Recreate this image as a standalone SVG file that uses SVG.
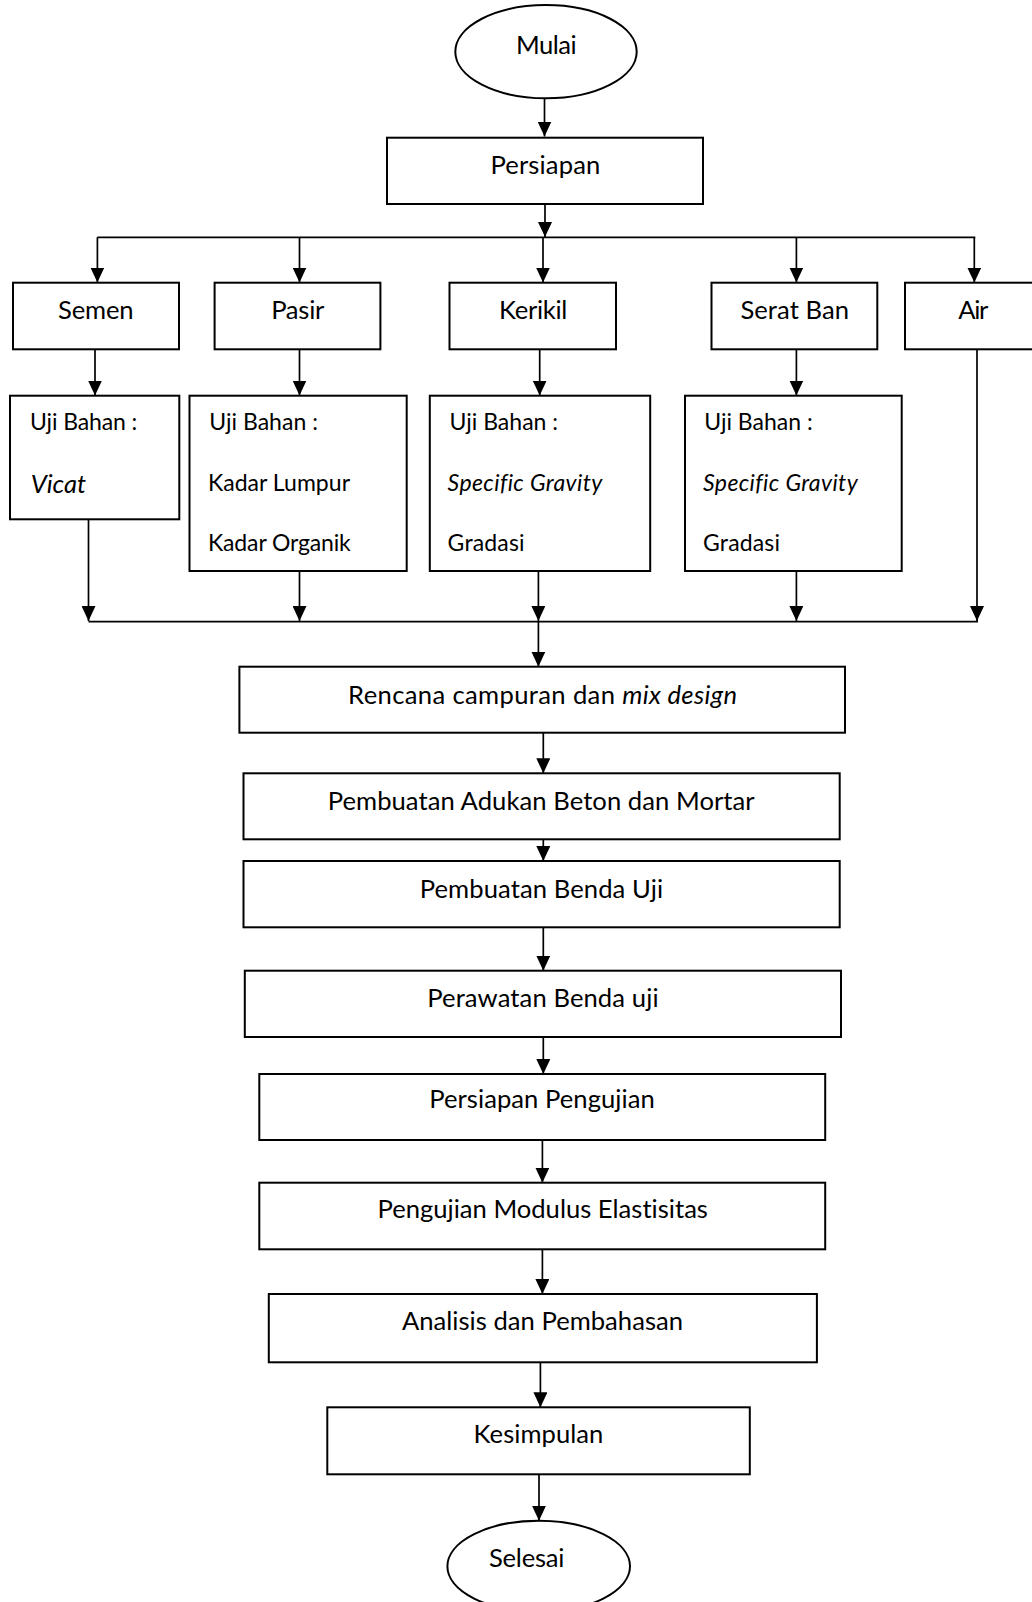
<svg xmlns="http://www.w3.org/2000/svg" width="1032" height="1602" viewBox="0 0 1032 1602">
<style>
.box{fill:#fff;stroke:#000;stroke-width:2}
.ln{fill:none;stroke:#000;stroke-width:1.7}
.arr{fill:none;stroke:#000;stroke-width:1.7;marker-end:url(#ah)}
.t{font-family:Lato,"Liberation Sans",sans-serif;font-size:25.6px;fill:#000;font-variant-ligatures:none;font-feature-settings:"liga" 0,"dlig" 0,"clig" 0}
.c{text-anchor:middle}
.s{font-size:23px}
.i{font-style:italic}
</style>
<defs>
<marker id="ah" markerUnits="userSpaceOnUse" markerWidth="15" markerHeight="14" viewBox="0 -7 15 14" refX="15" refY="0" orient="auto">
<path d="M0,-7 L15,0 L0,7 Z" fill="#000"/>
</marker>
</defs>
<rect width="1032" height="1602" fill="#fff"/>
<g id="connectors">
<line class="arr" x1="544.5" y1="98.3" x2="544.5" y2="136.5"/>
<line class="arr" x1="545" y1="204" x2="545" y2="237"/>
<line class="ln" x1="97.4" y1="237.3" x2="975.3" y2="237.3"/>
<line class="arr" x1="97.4" y1="237.3" x2="97.4" y2="282.5"/>
<line class="arr" x1="299.5" y1="237.3" x2="299.5" y2="282.5"/>
<line class="arr" x1="543" y1="237.3" x2="543" y2="282.5"/>
<line class="arr" x1="796.4" y1="237.3" x2="796.4" y2="282.5"/>
<line class="arr" x1="974.3" y1="237.3" x2="974.3" y2="282.5"/>
<line class="arr" x1="95" y1="349.3" x2="95" y2="395.5"/>
<line class="arr" x1="299.5" y1="349.3" x2="299.5" y2="395.5"/>
<line class="arr" x1="539.7" y1="349.3" x2="539.7" y2="395.5"/>
<line class="arr" x1="796.4" y1="349.3" x2="796.4" y2="395.5"/>
<line class="ln" x1="88.5" y1="621.7" x2="978" y2="621.7"/>
<line class="arr" x1="88.5" y1="519.3" x2="88.5" y2="621"/>
<line class="arr" x1="299.5" y1="571" x2="299.5" y2="621"/>
<line class="arr" x1="538.4" y1="571" x2="538.4" y2="621"/>
<line class="arr" x1="796.4" y1="571" x2="796.4" y2="621"/>
<line class="arr" x1="977" y1="349" x2="977" y2="621"/>
<line class="arr" x1="538.4" y1="621.7" x2="538.4" y2="666.7"/>
<line class="arr" x1="543.3" y1="732.7" x2="543.3" y2="773.3"/>
<line class="arr" x1="543.3" y1="839.3" x2="543.3" y2="861"/>
<line class="arr" x1="543.3" y1="927.3" x2="543.3" y2="970.7"/>
<line class="arr" x1="543.3" y1="1037" x2="543.3" y2="1074"/>
<line class="arr" x1="542.4" y1="1140" x2="542.4" y2="1182.7"/>
<line class="arr" x1="542.4" y1="1249.3" x2="542.4" y2="1294"/>
<line class="arr" x1="540.4" y1="1360" x2="540.4" y2="1407.3"/>
<line class="arr" x1="539" y1="1474" x2="539" y2="1520.7"/>
</g>
<g id="mulai">
<ellipse class="box" cx="546" cy="51.7" rx="90.7" ry="46.6"/>
<text class="t c" x="546.3" y="54" textLength="60.7">Mulai</text>
</g>
<g id="persiapan">
<rect class="box" x="387" y="137.7" width="316" height="66.3"/>
<text class="t c" x="545.4" y="174" textLength="110">Persiapan</text>
</g>
<g id="semen">
<rect class="box" x="13" y="282.7" width="166" height="66.6"/>
<text class="t c" x="95.8" y="319" textLength="75.7">Semen</text>
</g>
<g id="pasir">
<rect class="box" x="214.6" y="282.7" width="165.8" height="66.6"/>
<text class="t c" x="297.8" y="319" textLength="53.3">Pasir</text>
</g>
<g id="kerikil">
<rect class="box" x="449.5" y="282.7" width="166.5" height="66.6"/>
<text class="t c" x="533.2" y="319" textLength="68.4">Kerikil</text>
</g>
<g id="serat-ban">
<rect class="box" x="711.5" y="282.7" width="165.8" height="66.6"/>
<text class="t c" x="794.7" y="319" textLength="108.6">Serat Ban</text>
</g>
<g id="air">
<rect class="box" x="905" y="282.7" width="140" height="66.6"/>
<text class="t c" x="973.3" y="319" textLength="30">Air</text>
</g>
<g id="uji-semen">
<rect class="box" x="10" y="395.7" width="169.3" height="123.6"/>
<text class="t s" x="30" y="430" textLength="107.3">Uji Bahan :</text>
<text class="t i" x="30.7" y="492.7" font-size="26" textLength="55.3">Vicat</text>
</g>
<g id="uji-pasir">
<rect class="box" x="189.5" y="395.7" width="217.2" height="175.3"/>
<text class="t s" x="209.3" y="430" textLength="108.6">Uji Bahan :</text>
<text class="t s" x="208" y="491" textLength="142">Kadar Lumpur</text>
<text class="t s" x="208" y="550.7" textLength="142.8">Kadar Organik</text>
</g>
<g id="uji-kerikil">
<rect class="box" x="429.8" y="395.7" width="220.4" height="175.3"/>
<text class="t s" x="449.5" y="430" textLength="108.6">Uji Bahan :</text>
<text class="t s i" x="447.6" y="491" textLength="154.7">Specific Gravity</text>
<text class="t s" x="447.6" y="550.7" textLength="77">Gradasi</text>
</g>
<g id="uji-serat">
<rect class="box" x="685" y="395.7" width="216.7" height="175.3"/>
<text class="t s" x="704.2" y="430" textLength="108.6">Uji Bahan :</text>
<text class="t s i" x="703" y="491" textLength="154.7">Specific Gravity</text>
<text class="t s" x="703" y="550.7" textLength="77">Gradasi</text>
</g>
<g id="rencana">
<rect class="box" x="239.4" y="666.7" width="605.6" height="66"/>
<text class="t c" x="542.6" y="704" textLength="389">Rencana campuran dan <tspan class="i">mix design</tspan></text>
</g>
<g id="adukan">
<rect class="box" x="243.5" y="773.3" width="596.2" height="66"/>
<text class="t c" x="541.2" y="810" textLength="427">Pembuatan Adukan Beton dan Mortar</text>
</g>
<g id="benda-uji">
<rect class="box" x="243.5" y="861" width="596.2" height="66.3"/>
<text class="t c" x="541.4" y="898.3" textLength="243.4">Pembuatan Benda Uji</text>
</g>
<g id="perawatan">
<rect class="box" x="244.8" y="970.7" width="596.2" height="66.3"/>
<text class="t c" x="542.9" y="1007.3" textLength="231.3">Perawatan Benda uji</text>
</g>
<g id="persiapan-pengujian">
<rect class="box" x="259.3" y="1074" width="565.9" height="66"/>
<text class="t c" x="542" y="1108" textLength="225.5">Persiapan Pengujian</text>
</g>
<g id="pengujian-modulus">
<rect class="box" x="259.3" y="1182.7" width="565.9" height="66.6"/>
<text class="t c" x="542.7" y="1218.3" textLength="330.5">Pengujian Modulus Elastisitas</text>
</g>
<g id="analisis">
<rect class="box" x="268.8" y="1294" width="548.1" height="68.3"/>
<text class="t c" x="542.5" y="1330" textLength="281.1">Analisis dan Pembahasan</text>
</g>
<g id="kesimpulan">
<rect class="box" x="327.3" y="1407.3" width="422.5" height="67"/>
<text class="t c" x="538.5" y="1443.3" textLength="129.8">Kesimpulan</text>
</g>
<g id="selesai">
<ellipse class="box" cx="538.7" cy="1566.3" rx="91.3" ry="45.6"/>
<text class="t c" x="526.7" y="1566.7" textLength="75.3">Selesai</text>
</g>
</svg>
